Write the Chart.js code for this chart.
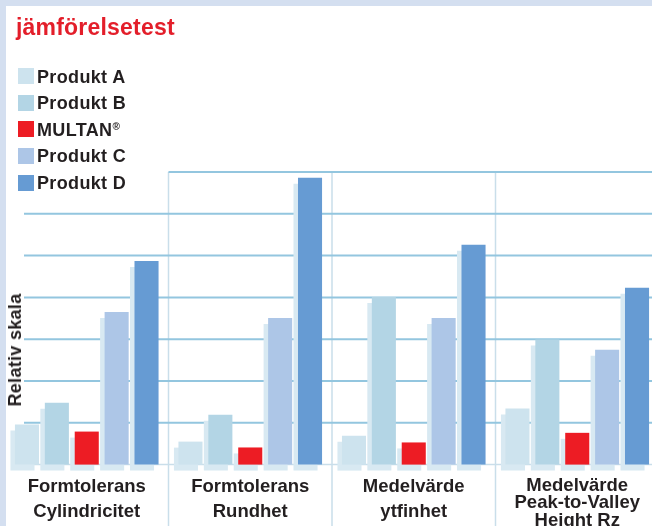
<!DOCTYPE html>
<html lang="sv">
<head>
<meta charset="utf-8">
<script src="https://cdn.jsdelivr.net/npm/chart.js@4/dist/chart.umd.min.js"></script>
<style>
  html, body { margin: 0; padding: 0; width: 652px; height: 526px; overflow: hidden; background: #d4dff0; }
  body { position: relative; font-family: "Liberation Sans", Arial, sans-serif; color: #231f20; }
  #panel { position: absolute; left: 6px; top: 6px; width: 700px; height: 600px; background: #fff; }
  #chart { position: absolute; left: 0; top: 0; }
  #title { position: absolute; left: 16px; top: 15.5px; font-size: 23px; line-height: 23px; font-weight: bold; color: #e31e2a; letter-spacing: 0.2px; }
  .leg { position: absolute; left: 18px; height: 18px; font-size: 18px; line-height: 18px; font-weight: bold; letter-spacing: 0.35px; white-space: nowrap; }
  .leg i { position: absolute; left: 0; top: 0.5px; width: 16px; height: 16px; }
  .leg span { position: absolute; left: 19px; top: 0; }
  .leg sup { font-size: 10px; vertical-align: 6px; line-height: 0; }
  #ytitle { position: absolute; left: 15px; top: 350px; transform: translate(-50%, -50%) rotate(-90deg); font-size: 18px; line-height: 18px; font-weight: bold; letter-spacing: 0.3px; white-space: nowrap; }
</style>
</head>
<body>
<div id="panel"></div>
<canvas id="chart" width="664" height="560"></canvas>
<div id="title">jämförelsetest</div>
<div id="legend"></div>
<div id="ytitle">Relativ skala</div>

<script>
// jämförelsetest — relativ skala, 1 enhet = en stödlinje

const categories = [
  ['Formtolerans', 'Cylindricitet'],
  ['Formtolerans', 'Rundhet'],
  ['Medelvärde', 'ytfinhet'],
  ['Medelvärde', 'Peak-to-Valley', 'Height Rz']
];
const seriesNames = ['Produkt A', 'Produkt B', 'MULTAN®', 'Produkt C', 'Produkt D'];
const produktA = [0.96, 0.55, 0.69, 1.34];
const produktB = [1.48, 1.19, 4.01, 2.99];
const multan   = [0.79, 0.41, 0.53, 0.76];
const produktC = [3.65, 3.51, 3.51, 2.75];
const produktD = [4.87, 6.86, 5.26, 4.23];
const gridSteps = [1, 2, 3, 4, 5, 6];
const yMax = 7;

const colors = ['#cde3ee', '#b3d5e5', '#ed1c24', '#adc6e7', '#669bd3'];
const ghostColor = '#d8e9f2';
const lineColor = '#93c6df';
const dividerColor = '#c9deea';

function renderLegend() {
  const wrap = document.getElementById('legend');
  wrap.innerHTML = seriesNames.map((name, i) => {
    const label = name.replace('®', '<sup>®</sup>');
    return `<div class="leg" style="top:${67.5 + i * 26.65}px"><i style="background:${colors[i]}"></i><span>${label}</span></div>`;
  }).join('');
}

// stödlinjer och avdelare bakom staplarna
const gridPlugin = {
  id: 'gridLines',
  beforeDatasetsDraw(chart) {
    const { ctx, chartArea, scales } = chart;
    const x = scales.x, y = scales.y;
    const dividers = [];
    for (let i = 0; i < categories.length - 1; i++) {
      dividers.push((x.getPixelForValue(i) + x.getPixelForValue(i + 1)) / 2);
    }
    ctx.save();
    ctx.strokeStyle = dividerColor;
    ctx.lineWidth = 1.5;
    dividers.forEach(dx => {
      ctx.beginPath();
      ctx.moveTo(dx, y.getPixelForValue(yMax));
      ctx.lineTo(dx, chart.height);
      ctx.stroke();
    });
    ctx.strokeStyle = lineColor;
    ctx.lineWidth = 2;
    gridSteps.forEach(v => {
      const py = y.getPixelForValue(v);
      ctx.beginPath();
      ctx.moveTo(24, py);
      ctx.lineTo(chartArea.right, py);
      ctx.stroke();
    });
    const top = y.getPixelForValue(yMax);
    ctx.beginPath();
    ctx.moveTo(dividers[0], top);
    ctx.lineTo(chartArea.right, top);
    ctx.stroke();
    ctx.strokeStyle = dividerColor;
    ctx.lineWidth = 1.5;
    const base = y.getPixelForValue(0);
    ctx.beginPath();
    ctx.moveTo(24, base);
    ctx.lineTo(chartArea.right, base);
    ctx.stroke();
    ctx.restore();
  }
};

// ljus "skugga" snett bakom varje stapel
const ghostPlugin = {
  id: 'ghost',
  beforeDatasetDraw(chart) {
    const ctx = chart.ctx;
    ctx.save();
    ctx.shadowColor = ghostColor;
    ctx.shadowBlur = 0;
    ctx.shadowOffsetX = -4.5;
    ctx.shadowOffsetY = 6;
  },
  afterDatasetDraw(chart) {
    chart.ctx.restore();
  }
};

function renderChart() {
  const values = [produktA, produktB, multan, produktC, produktD];
  new Chart(document.getElementById('chart'), {
    type: 'bar',
    data: {
      labels: categories,
      datasets: seriesNames.map((name, i) => ({
        label: name,
        data: values[i],
        backgroundColor: colors[i],
        borderWidth: 0,
        categoryPercentage: 0.914,
        barPercentage: 0.805,
        clip: false
      }))
    },
    options: {
      responsive: false,
      animation: false,
      events: [],
      layout: { padding: { top: 172, left: 5, right: 5, bottom: 0 } },
      plugins: { legend: { display: false }, tooltip: { enabled: false } },
      scales: {
        x: {
          grid: { display: false, drawTicks: false },
          border: { display: false },
          ticks: {
            color: '#231f20',
            padding: 21,
            crossAlign: 'center',
            maxRotation: 0,
            autoSkip: false,
            font: c => ({
              family: '"Liberation Sans", Arial, sans-serif',
              size: 18.5,
              weight: 'bold',
              lineHeight: c.index === 3 ? 17.8 / 18.5 : 25.5 / 18.5
            })
          }
        },
        y: { display: false, min: 0, max: yMax }
      }
    },
    plugins: [gridPlugin, ghostPlugin]
  });
}

renderLegend();
renderChart();
</script>
</body>
</html>
